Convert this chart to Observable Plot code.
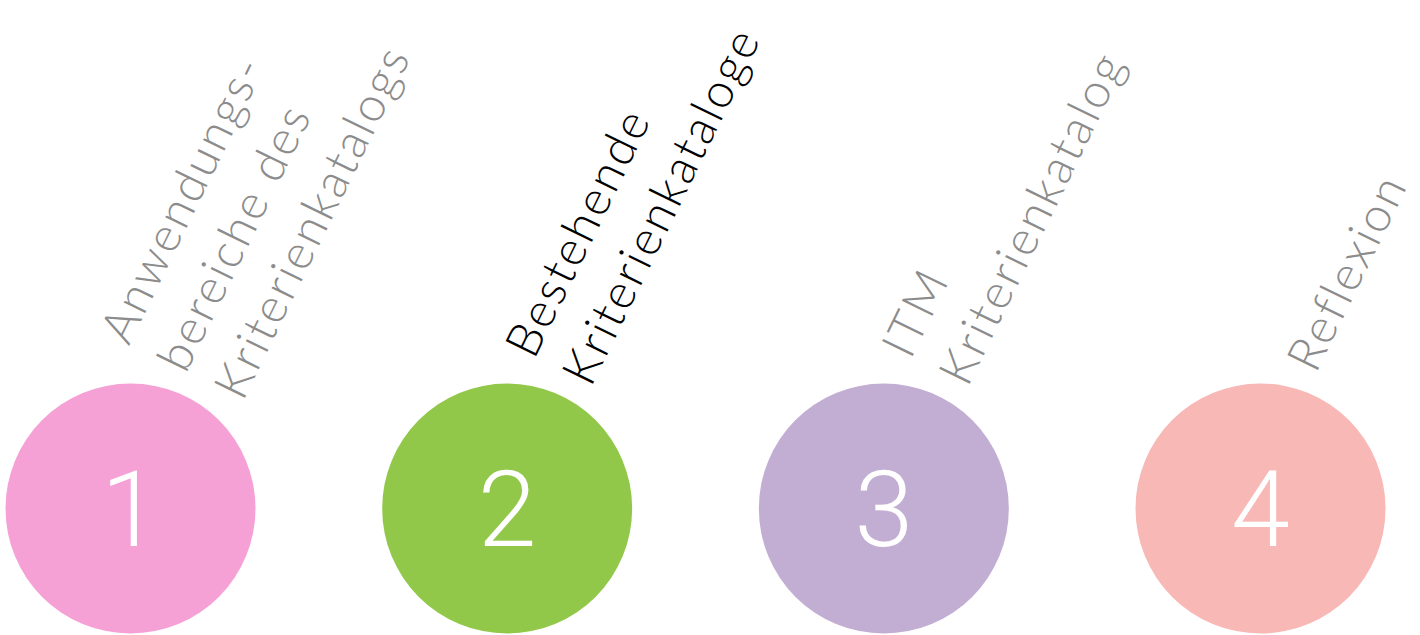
<!DOCTYPE html>
<html>
<head>
<meta charset="utf-8">
<script src="https://cdn.jsdelivr.net/npm/d3@7"></script>
<script src="https://cdn.jsdelivr.net/npm/@observablehq/plot@0.6"></script>
<style>
  html, body { margin: 0; padding: 0; background: #fff; }
  g.lbl text { letter-spacing: 2.3px; }
</style>
</head>
<body>
<div id="chart"></div>
<script>
// Data
const steps = [1, 2, 3, 4];
const stepLabels = [
  "Anwendungs-\nbereiche des\nKriterienkatalogs",
  "Bestehende\nKriterienkataloge",
  "ITM\nKriterienkatalog",
  "Reflexion"
];
const activeStep = 2;
const palette = ["#F6A1D5", "#92C84A", "#C3AED3", "#F8B8B6"];

const data = steps.map((s, i) => ({step: s, label: stepLabels[i], active: s === activeStep}));

const chart = Plot.plot({
  width: 1420,
  height: 635,
  margin: 0,
  x: {domain: [1, 4], range: [130, 1260], axis: null},
  y: {domain: [0, 1], range: [508, 361], axis: null},
  color: {domain: steps, range: palette},
  style: {fontFamily: "Lato, 'Open Sans', sans-serif", background: "#fff", overflow: "visible"},
  marks: [
    Plot.dot(data, {x: "step", y: () => 0, r: 125, fill: "step", stroke: null}),
    Plot.text(data, {
      x: "step", y: () => 0, text: d => String(d.step),
      fill: "#fff", fontSize: 106, fontWeight: 300,
      fontFamily: "Roboto, 'Open Sans', sans-serif",
      textAnchor: "middle", lineAnchor: "middle", dy: 4
    }),
    Plot.text(data, {
      x: "step", y: () => 1, text: "label",
      rotate: -64, textAnchor: "start", lineAnchor: "middle",
      lineHeight: 1.32, fontSize: 48, fontWeight: 300,
      dx: 37, dy: 4, className: "lbl",
      fill: d => d.active ? "#000000" : "#8C8C8C"
    })
  ]
});
document.getElementById("chart").appendChild(chart);
</script>
</body>
</html>
